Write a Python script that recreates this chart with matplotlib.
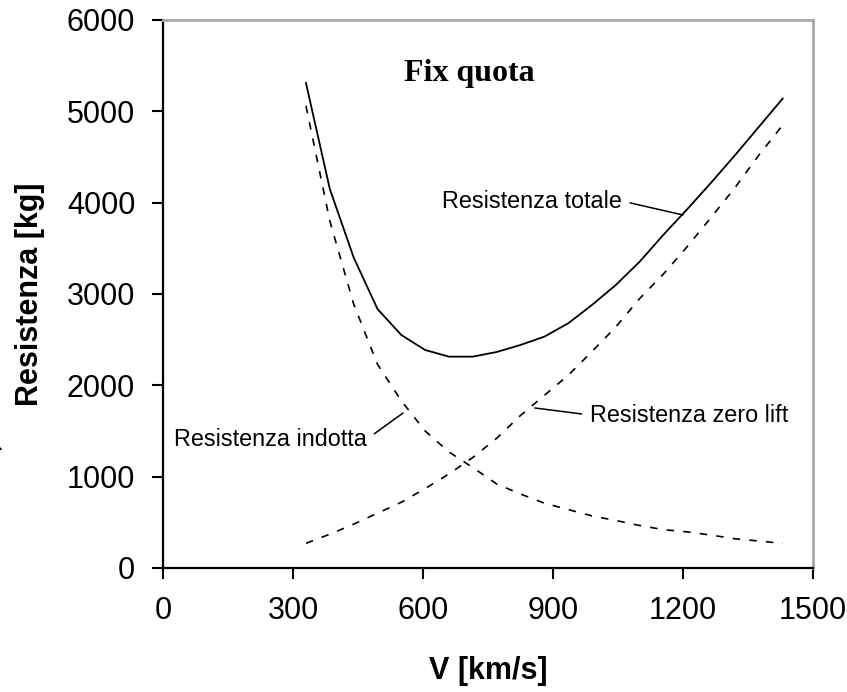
import matplotlib
matplotlib.use('Agg')
import matplotlib.pyplot as plt

# ---- data ----
V = [330, 385, 440, 495, 550, 605, 660, 715, 770, 825, 880,
     935, 990, 1045, 1100, 1155, 1210, 1265, 1320, 1375, 1430]
resistenza_totale = [5310, 4150, 3400, 2836, 2551, 2387, 2314, 2314, 2365, 2442, 2533,
                     2679, 2880, 3099, 3354, 3650, 3930, 4220, 4520, 4830, 5140]
resistenza_indotta = [5060, 3800, 2890, 2230, 1830, 1500, 1270, 1100, 920, 810, 710,
                      640, 570, 520, 465, 420, 395, 360, 320, 295, 270]
resistenza_zero_lift = [270, 370, 480, 600, 720, 870, 1030, 1210, 1420, 1670, 1890,
                        2110, 2370, 2640, 2950, 3220, 3520, 3840, 4165, 4520, 4850]

x_ticks = [0, 300, 600, 900, 1200, 1500]
y_ticks = [0, 1000, 2000, 3000, 4000, 5000, 6000]

title_text = "Fix quota"
x_label = "V [km/s]"
y_label = "Resistenza [kg]"
lbl_totale = "Resistenza totale"
lbl_indotta = "Resistenza indotta"
lbl_zero = "Resistenza zero lift"

plt.rcParams['font.family'] = ['Liberation Sans', 'DejaVu Sans']

fig = plt.figure(figsize=(8.47, 6.92), dpi=100)
ax = fig.add_axes([0.1924, 0.1792, 0.9599 - 0.1924, 0.9711 - 0.1792])

ax.plot(V, resistenza_totale, color='black', lw=1.3, solid_joinstyle='miter')
ax.plot(V, resistenza_indotta, color='black', lw=1.2, dashes=(4.5, 5.5))
ax.plot(V, resistenza_zero_lift, color='black', lw=1.2, dashes=(4.5, 5.5))

ax.set_xlim(0, 1500)
ax.set_ylim(0, 6000)
ax.set_xticks(x_ticks)
ax.set_yticks(y_ticks)
ax.tick_params(direction='out', length=8, width=1.5, pad=12, labelsize=22,
               colors='black')
ax.tick_params(axis='x', pad=12)

for s in ['left', 'bottom']:
    ax.spines[s].set_color('black')
    ax.spines[s].set_linewidth(1.6)
for s in ['top', 'right']:
    ax.spines[s].set_color('#a8a8a8')
    ax.spines[s].set_linewidth(2.0)

ax.set_xlabel(x_label, fontsize=22, fontweight='bold', labelpad=22)
ax.set_ylabel(y_label, fontsize=22, fontweight='bold', labelpad=16)

ax.text(706, 5330, title_text, family=['Liberation Serif', 'DejaVu Serif'],
        fontweight='bold', fontsize=23, ha='center', va='baseline')

arrow = dict(arrowstyle='-', color='black', lw=1.1, shrinkA=4, shrinkB=0)
ax.annotate(lbl_totale, xy=(1200, 3865), xytext=(1059, 4018), fontsize=16.8,
            ha='right', va='center',
            arrowprops=dict(arrow, relpos=(1.0, 0.5)))
ax.annotate(lbl_zero, xy=(858, 1752), xytext=(985, 1675), fontsize=16.8,
            ha='left', va='center',
            arrowprops=dict(arrow, relpos=(0.0, 0.5)))
ax.annotate(lbl_indotta, xy=(554, 1697), xytext=(471, 1412), fontsize=16.8,
            ha='right', va='center',
            arrowprops=dict(arrow, relpos=(1.0, 0.5)))

# small stray arrowhead at the left edge of the original picture
ax.annotate('', xy=(5, 692 - 451), xycoords='figure pixels',
            xytext=(-20, 692 - 440), textcoords='figure pixels',
            arrowprops=dict(arrowstyle='-|>', color='black', lw=1,
                            mutation_scale=12),
            annotation_clip=False)

fig.savefig('out.png', dpi=100, facecolor='white')
